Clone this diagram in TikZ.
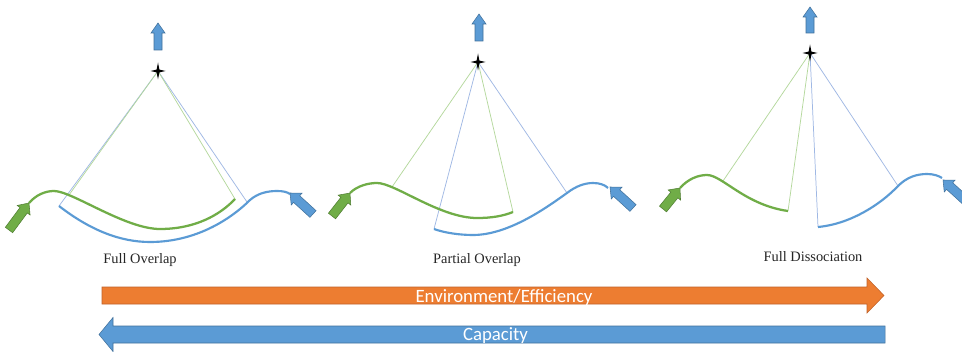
\documentclass[tikz,border=0pt]{standalone}
\usepackage{fontspec}
\setmainfont{Liberation Serif}
\newfontfamily\calibri{Carlito}
\usetikzlibrary{calc}
\definecolor{obl}{HTML}{5B9BD5}
\definecolor{oblD}{HTML}{41719C}
\definecolor{ogr}{HTML}{70AD47}
\definecolor{ogrD}{HTML}{507E32}
\definecolor{oor}{HTML}{ED7D31}
\definecolor{oorD}{HTML}{C0622A}
\definecolor{lbl}{HTML}{9FB8E4}
\definecolor{lgr}{HTML}{B4D89C}
% block arrow: #1 tail, #2 tip, #3 shaft half width, #4 head half width, #5 head length, #6 style
\newcommand\blockarr[6]{%
  \coordinate (#1h) at ($(#2)!#5!(#1)$);
  \path[#6] ($(#1)!#3!90:(#2)$) -- ($(#1h)!#3!-90:(#1)$) -- ($(#1h)!#4!-90:(#1)$)
    -- (#2) -- ($(#1h)!#4!90:(#1)$) -- ($(#1h)!#3!90:(#1)$) -- ($(#1)!#3!-90:(#2)$) -- cycle;
}
\newcommand\fourstar[1]{%
  \fill[black] (#1) +(0,-8.5) -- +(1.4,-1.4) -- +(7.5,0) -- +(1.4,1.4) -- +(0,8.5)
    -- +(-1.4,1.4) -- +(-7.5,0) -- +(-1.4,-1.4) -- cycle;
}
\tikzset{
  bluearr/.style={fill=obl,draw=oblD,line width=0.4pt},
  greenarr/.style={fill=ogr,draw=ogrD,line width=0.4pt},
  orangearr/.style={fill=oor,draw=oorD,line width=0.4pt},
  bline/.style={draw=lbl,line width=0.55pt},
  gline/.style={draw=lgr,line width=0.55pt},
  bcurve/.style={draw=obl,line width=1.6pt},
  gcurve/.style={draw=ogr,line width=1.7pt},
  lab/.style={font=\fontsize{10.8}{12}\selectfont,text=black!85,inner sep=0pt},
  barlab/.style={font=\calibri\fontsize{14.1}{16}\selectfont,text=white,inner sep=0pt},
}
\begin{document}
\begin{tikzpicture}[x=0.75pt,y=-0.75pt]
\useasboundingbox[fill=white] (0,0) rectangle (962,352);

% ---------- Panel 1 : Full Overlap ----------
\coordinate (s1) at (158,71);
\coordinate (g1l) at (69,195);
\coordinate (g1r) at (235,199);
\coordinate (b1l) at (59,206);
\coordinate (b1r) at (247,202);
\draw[bline] (b1l) -- (s1) -- (b1r);
\draw[gline] (g1l) -- (s1) -- (g1r);
\draw[gcurve] (29,203) .. controls (36,195) and (45,191) .. (54,191)
  .. controls (72,191) and (125,229) .. (160,229)
  .. controls (195,229) and (220,215) .. (g1r);
\draw[bcurve] (b1l) .. controls (90,230) and (120,242) .. (150,242)
  .. controls (200,242) and (235,215) .. (250,200)
  .. controls (258,193) and (268,191) .. (277,191)
  .. controls (283,191) and (287,192) .. (290,194);
\fourstar{s1}
\coordinate (u1t) at (158,50); \coordinate (u1p) at (158,23);
\blockarr{u1t}{u1p}{3pt}{5.25pt}{7.5pt}{bluearr}
\coordinate (d1t) at (313,214); \coordinate (d1p) at (290,193);
\blockarr{d1t}{d1p}{3.4pt}{6pt}{6.75pt}{bluearr}
\coordinate (e1t) at (9,230); \coordinate (e1p) at (29,203);
\blockarr{e1t}{e1p}{3.4pt}{6pt}{6.75pt}{greenarr}
\node[lab] (lab1) at (140,260) {Full Overlap};

% ---------- Panel 2 : Partial Overlap ----------
\coordinate (s2) at (478,62);
\coordinate (g2l) at (392,187);
\coordinate (g2r) at (513,212);
\coordinate (b2l) at (434,229);
\coordinate (b2r) at (567,193);
\draw[bline] (b2l) -- (s2) -- (b2r);
\draw[gline] (g2l) -- (s2) -- (g2r);
\draw[gcurve] (350,193) .. controls (357,186) and (368,183) .. (377,183)
  .. controls (395,183) and (440,218) .. (477,218)
  .. controls (492,218) and (503,216) .. (g2r);
\draw[bcurve] (b2l) .. controls (445,233) and (460,235) .. (473,235)
  .. controls (510,235) and (550,205) .. (b2r)
  .. controls (576,186) and (585,183) .. (593,183)
  .. controls (600,183) and (605,185) .. (608,188);
\fourstar{s2}
\coordinate (u2t) at (479,41); \coordinate (u2p) at (479,14);
\blockarr{u2t}{u2p}{3pt}{5.25pt}{7.5pt}{bluearr}
\coordinate (d2t) at (633,208); \coordinate (d2p) at (610,187);
\blockarr{d2t}{d2p}{3.4pt}{6pt}{6.75pt}{bluearr}
\coordinate (e2t) at (332,216); \coordinate (e2p) at (350,193);
\blockarr{e2t}{e2p}{3.4pt}{6pt}{6.75pt}{greenarr}
\node[lab] (lab2) at (477,260) {Partial Overlap};

% ---------- Panel 3 : Full Dissociation ----------
\coordinate (s3) at (810,53);
\coordinate (g3l) at (723,181);
\coordinate (g3r) at (788,211);
\coordinate (b3l) at (818,227);
\coordinate (b3r) at (898,186);
\draw[bline] (b3l) -- (s3) -- (b3r);
\draw[gline] (g3l) -- (s3) -- (g3r);
\draw[gcurve] (680,188) .. controls (688,179) and (698,175) .. (707,175)
  .. controls (722,175) and (745,205) .. (g3r);
\draw[bcurve] (b3l) .. controls (850,224) and (880,205) .. (b3r)
  .. controls (907,177) and (917,174) .. (927,174)
  .. controls (934,174) and (939,176) .. (942,178);
\fourstar{s3}
\coordinate (u3t) at (810,33); \coordinate (u3p) at (810,7);
\blockarr{u3t}{u3p}{3pt}{5.25pt}{7.5pt}{bluearr}
\coordinate (d3t) at (966,201); \coordinate (d3p) at (943,180);
\blockarr{d3t}{d3p}{3.4pt}{6pt}{6.75pt}{bluearr}
\coordinate (e3t) at (663,209); \coordinate (e3p) at (680,188);
\blockarr{e3t}{e3p}{3.4pt}{6pt}{6.75pt}{greenarr}
\node[lab] (lab3) at (813,257) {Full Dissociation};

% ---------- Bottom arrows ----------
\coordinate (ot) at (102,295.5); \coordinate (op) at (884,295.5);
\blockarr{ot}{op}{6.375pt}{13.125pt}{12.75pt}{orangearr}
\node[barlab] (envlab) at (504,297) {Environment/Efficiency};
\coordinate (ct) at (885,334.5); \coordinate (cp) at (99,334.5);
\blockarr{ct}{cp}{6.375pt}{12.75pt}{10.5pt}{bluearr}
\node[barlab] (caplab) at (495.5,335.5) {Capacity};
\end{tikzpicture}
\end{document}
